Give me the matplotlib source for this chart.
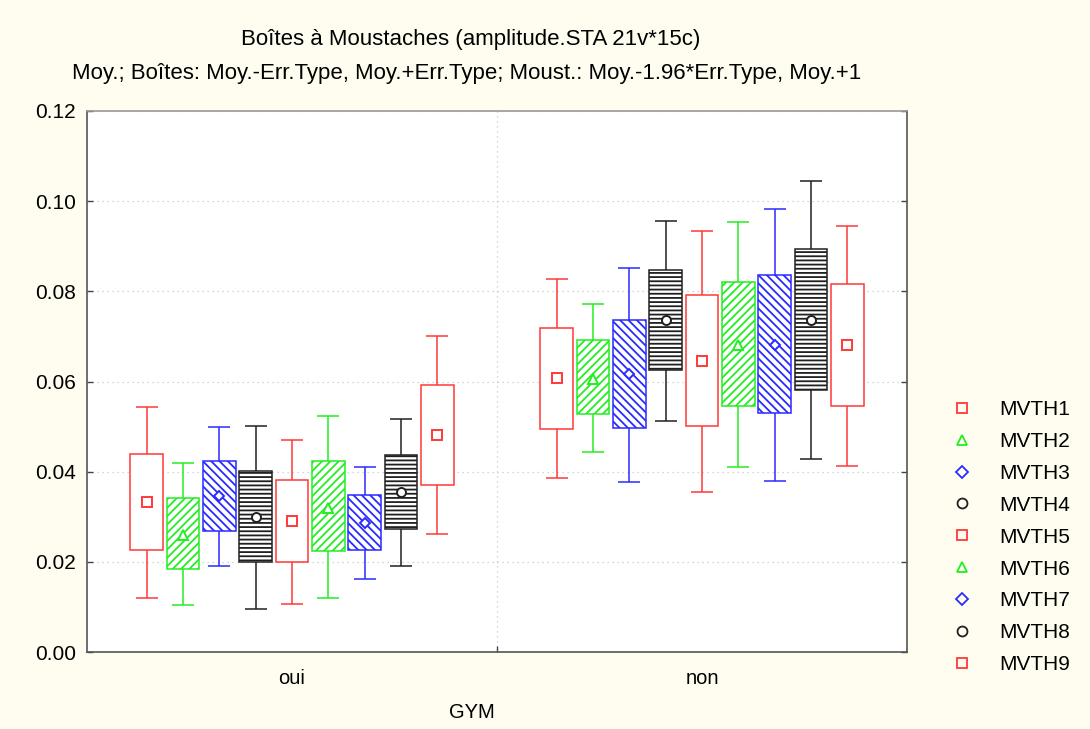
import matplotlib
matplotlib.use("Agg")
from matplotlib import pyplot as plt
from matplotlib.lines import Line2D

# groups on the x axis and series names
groups = ["oui", "non"]
series = ["MVTH1", "MVTH2", "MVTH3", "MVTH4", "MVTH5", "MVTH6", "MVTH7", "MVTH8", "MVTH9"]

# values, one row per group (oui, non)
means = [
    [0.0333, 0.0260, 0.0345, 0.0299, 0.0291, 0.0320, 0.0287, 0.0354, 0.0481],
    [0.0608, 0.0606, 0.0616, 0.0737, 0.0645, 0.0681, 0.0682, 0.0737, 0.0681],
]
box_low = [
    [0.0227, 0.0184, 0.0269, 0.0199, 0.0199, 0.0224, 0.0226, 0.0273, 0.0371],
    [0.0495, 0.0529, 0.0497, 0.0625, 0.0501, 0.0546, 0.0531, 0.0582, 0.0546],
]
box_high = [
    [0.0439, 0.0342, 0.0424, 0.0401, 0.0382, 0.0424, 0.0348, 0.0436, 0.0592],
    [0.0719, 0.0692, 0.0736, 0.0847, 0.0792, 0.0820, 0.0836, 0.0893, 0.0816],
]
whisk_low = [
    [0.0120, 0.0104, 0.0191, 0.0096, 0.0107, 0.0120, 0.0161, 0.0190, 0.0261],
    [0.0385, 0.0444, 0.0378, 0.0513, 0.0356, 0.0411, 0.0379, 0.0428, 0.0412],
]
whisk_high = [
    [0.0543, 0.0420, 0.0500, 0.0501, 0.0470, 0.0523, 0.0410, 0.0516, 0.0701],
    [0.0827, 0.0772, 0.0852, 0.0957, 0.0933, 0.0954, 0.0983, 0.1044, 0.0946],
]
y_ticks = [0.00, 0.02, 0.04, 0.06, 0.08, 0.10, 0.12]

# styling per series
RED, GREEN, BLUE, BLACK = "#ff3838", "#22ee22", "#2a2aff", "#202020"
colours = [RED, GREEN, BLUE, BLACK, RED, GREEN, BLUE, BLACK, RED]
hatches = [None, "////", "\\\\\\\\", "----", None, "////", "\\\\\\\\", "----", None]
markers = ["s", "^", "D", "o", "s", "^", "D", "o", "s"]
msizes = [6.5, 7, 5.5, 6.5, 6.5, 7, 5.5, 6.5, 6.5]

BG = "#fffdf0"
LW = 1.1
STEP = 0.0886
BOX_W = 0.080
CAP_W = 0.054

plt.rcParams["hatch.linewidth"] = 1.3
plt.rcParams["font.family"] = ["Liberation Sans", "DejaVu Sans"]

fig = plt.figure(figsize=(10.9, 7.29), dpi=100, facecolor=BG)
ax = fig.add_axes([87 / 1090, 1 - 652 / 729, 820 / 1090, 541 / 729])
ax.set_facecolor("white")

for g in range(len(groups)):
    for i in range(len(series)):
        x = g + (i - 4) * STEP
        c = colours[i]
        ax.vlines(x, whisk_low[g][i], box_low[g][i], color=c, lw=LW, zorder=2)
        ax.vlines(x, box_high[g][i], whisk_high[g][i], color=c, lw=LW, zorder=2)
        ax.hlines([whisk_low[g][i], whisk_high[g][i]], x - CAP_W / 2, x + CAP_W / 2,
                  color=c, lw=LW, zorder=2)
        ax.bar(x, box_high[g][i] - box_low[g][i], bottom=box_low[g][i], width=BOX_W,
               facecolor="white", edgecolor=c, hatch=hatches[i], linewidth=LW, zorder=3)
        ax.plot(x, means[g][i], marker=markers[i], ms=msizes[i], mfc="white", mec=c,
                mew=1.4, zorder=4)

ax.set_xlim(-0.5, 1.5)
ax.set_ylim(0, 0.12)
ax.set_yticks(y_ticks)
ax.set_yticklabels([f"{v:.2f}" for v in y_ticks], fontsize=15)
ax.set_xticks(range(len(groups)))
ax.set_xticklabels(groups, fontsize=14.5)
ax.tick_params(axis="x", which="major", length=0, pad=12)
ax.set_xticks([0.5], minor=True)
ax.tick_params(axis="x", which="minor", direction="in", length=4, width=1, colors="#444444")
ax.tick_params(axis="y", direction="in", length=4, width=1, right=True, pad=8,
               color="#444444")
ax.grid(True, axis="y", which="major", ls=(0, (1, 3)), color="#c8c8c8", lw=0.9)
ax.grid(True, axis="x", which="minor", ls=(0, (1, 3)), color="#c8c8c8", lw=0.9)
ax.set_axisbelow(True)
for s in ax.spines.values():
    s.set_color("#555555")
    s.set_linewidth(1.2)
ax.spines["top"].set_color("#999999")

fig.text(471 / 1090, 1 - 40 / 729, "Boîtes à Moustaches (amplitude.STA 21v*15c)",
         ha="center", va="center", fontsize=16)
fig.text(72 / 1090, 1 - 74 / 729,
         "Moy.; Boîtes: Moy.-Err.Type, Moy.+Err.Type; Moust.: Moy.-1.96*Err.Type, Moy.+1",
         ha="left", va="center", fontsize=16)
fig.text(472 / 1090, 1 - 713 / 729, "GYM", ha="center", va="center", fontsize=14.5)

handles = [Line2D([], [], ls="none", marker=markers[i], ms=msizes[i] * 1.1, mfc="none",
                  mec=colours[i], mew=1.3) for i in range(len(series))]
fig.legend(handles, series, loc="upper left", bbox_to_anchor=(952 / 1090, 1 - 400 / 729),
           frameon=False, fontsize=15, handlelength=1.0, handletextpad=1.25,
           labelspacing=0.62, borderpad=0, borderaxespad=0)

fig.savefig("out.png", dpi=100, facecolor=BG)
